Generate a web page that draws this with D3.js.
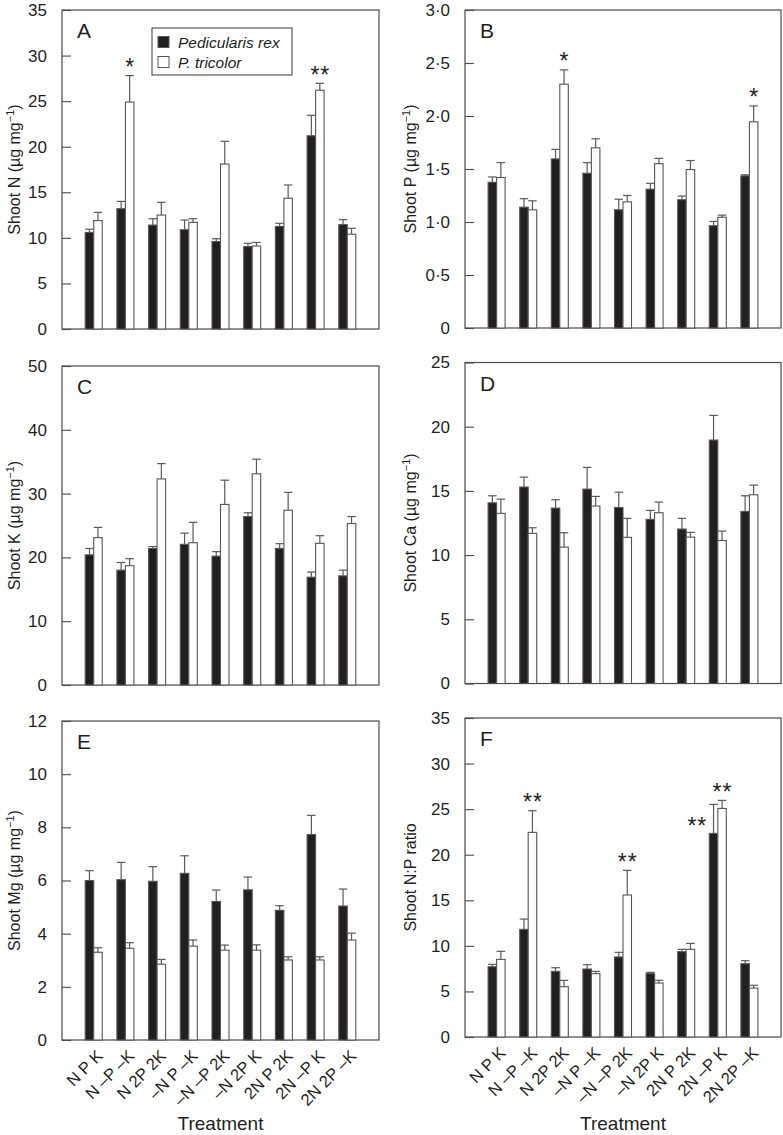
<!DOCTYPE html>
<html><head><meta charset="utf-8">
<script src="https://cdn.jsdelivr.net/npm/d3@7"></script>
<style>
html,body{margin:0;padding:0;background:#fff;}
svg{display:block;font-family:"Liberation Sans",Arial,Helvetica,sans-serif;}
</style></head>
<body><svg id="chart" width="783" height="1135"></svg>
<script>
// ---- data ----
const treatments = ["N P K","N \u2013P \u2013K","N 2P 2K","\u2013N P \u2013K","\u2013N \u2013P 2K","\u2013N 2P K","2N P 2K","2N \u2013P K","2N 2P \u2013K"];
const seriesNames = ["Pedicularis rex","P. tricolor"];

const nRex   = [10.6, 13.2, 11.4, 10.9, 9.6, 9.05, 11.25, 21.2, 11.45];
const nRexSE = [0.35, 0.8, 0.7, 1.05, 0.3, 0.35, 0.35, 2.25, 0.55];
const nTri   = [11.9, 24.9, 12.5, 11.7, 18.1, 9.1, 14.35, 26.2, 10.4];
const nTriSE = [0.9, 2.9, 1.4, 0.4, 2.5, 0.4, 1.45, 0.75, 0.65];

const pRex   = [1.375, 1.14, 1.595, 1.46, 1.115, 1.31, 1.21, 0.965, 1.435];
const pRexSE = [0.05, 0.08, 0.09, 0.1, 0.1, 0.055, 0.035, 0.04, 0.01];
const pTri   = [1.42, 1.115, 2.30, 1.70, 1.19, 1.55, 1.495, 1.045, 1.945];
const pTriSE = [0.14, 0.085, 0.135, 0.085, 0.06, 0.05, 0.085, 0.02, 0.15];

const kRex   = [20.4, 18.0, 21.4, 22.05, 20.2, 26.4, 21.4, 16.9, 17.1];
const kRexSE = [1.0, 1.2, 0.3, 1.75, 0.7, 0.6, 0.75, 0.8, 0.9];
const kTri   = [23.1, 18.7, 32.3, 22.3, 28.3, 33.1, 27.4, 22.2, 25.3];
const kTriSE = [1.6, 1.1, 2.4, 3.2, 3.8, 2.3, 2.8, 1.2, 1.1];

const caRex   = [14.07, 15.3, 13.66, 15.14, 13.71, 12.78, 12.03, 18.96, 13.4];
const caRexSE = [0.55, 0.77, 0.65, 1.69, 1.19, 0.7, 0.83, 1.92, 1.22];
const caTri   = [13.25, 11.69, 10.62, 13.82, 11.38, 13.3, 11.4, 11.14, 14.7];
const caTriSE = [1.11, 0.44, 1.12, 0.75, 1.48, 0.83, 0.37, 0.73, 0.75];

const mgRex   = [6.0, 6.03, 5.97, 6.27, 5.21, 5.65, 4.88, 7.73, 5.04];
const mgRexSE = [0.37, 0.65, 0.55, 0.66, 0.43, 0.48, 0.17, 0.72, 0.64];
const mgTri   = [3.30, 3.45, 2.85, 3.53, 3.38, 3.38, 3.01, 3.01, 3.76];
const mgTriSE = [0.17, 0.21, 0.18, 0.23, 0.19, 0.2, 0.12, 0.12, 0.26];

const npRex   = [7.71, 11.81, 7.2, 7.46, 8.78, 6.95, 9.36, 22.34, 8.04];
const npRexSE = [0.26, 1.13, 0.4, 0.47, 0.51, 0.14, 0.26, 3.18, 0.33];
const npTri   = [8.52, 22.45, 5.52, 6.95, 15.58, 5.92, 9.62, 25.08, 5.37];
const npTriSE = [0.88, 2.38, 0.7, 0.25, 2.7, 0.3, 0.65, 0.88, 0.3];

const ticksA = [0,5,10,15,20,25,30,35];
const ticksB = [0,0.5,1.0,1.5,2.0,2.5,3.0];
const ticksC = [0,10,20,30,40,50];
const ticksD = [0,5,10,15,20,25];
const ticksE = [0,2,4,6,8,10,12];
const ticksF = [0,5,10,15,20,25,30,35];

const starsA = [{g:1,s:1,label:"*"},{g:7,s:1,label:"**"}];
const starsB = [{g:2,s:1,label:"*"},{g:8,s:1,label:"*"}];
const starsF = [{g:1,s:1,label:"**"},{g:4,s:1,label:"**"},{g:7,s:0,label:"**",side:"left"},{g:7,s:1,label:"**"}];

// ---- layout ----
const svg = d3.select("#chart");
const TXT = "#231f20", AX = "#4a4a4a", ERR = "#5a5a5a";
const dotFmt = d => d === 0 ? "0" : d.toFixed(1).replace(".", "\u00b7");

const panels = [
  {id:"A", x0:62,  x1:379, y0:10,    y1:329,  max:35, ticks:ticksA, fmt:d=>d, lab:["Shoot N (\u00b5g mg","\u22121",")"], rex:nRex, rexSE:nRexSE, tri:nTri, triSE:nTriSE, stars:starsA, legend:true},
  {id:"B", x0:465, x1:781, y0:10,    y1:328,  max:3,  ticks:ticksB, fmt:dotFmt, lab:["Shoot P (\u00b5g mg","\u22121",")"], rex:pRex, rexSE:pRexSE, tri:pTri, triSE:pTriSE, stars:starsB},
  {id:"C", x0:62,  x1:379, y0:366,   y1:685,  max:50, ticks:ticksC, fmt:d=>d, lab:["Shoot K (\u00b5g mg","\u22121",")"], rex:kRex, rexSE:kRexSE, tri:kTri, triSE:kTriSE, stars:[]},
  {id:"D", x0:465, x1:781, y0:362.5, y1:683.5,max:25, ticks:ticksD, fmt:d=>d, lab:["Shoot Ca (\u00b5g mg","\u22121",")"], rex:caRex, rexSE:caRexSE, tri:caTri, triSE:caTriSE, stars:[]},
  {id:"E", x0:62,  x1:379, y0:721,   y1:1040, max:12, ticks:ticksE, fmt:d=>d, lab:["Shoot Mg (\u00b5g mg","\u22121",")"], rex:mgRex, rexSE:mgRexSE, tri:mgTri, triSE:mgTriSE, stars:[], xlabels:true},
  {id:"F", x0:465, x1:781, y0:718,   y1:1037, max:35, ticks:ticksF, fmt:d=>d, lab:["Shoot N:P ratio"], rex:npRex, rexSE:npRexSE, tri:npTri, triSE:npTriSE, stars:starsF, xlabels:true}
];

const BW = 8.5;

panels.forEach(p => {
  const g = svg.append("g");
  const x = d3.scalePoint().domain(treatments).range([p.x0, p.x1]).padding(1);
  const y = d3.scaleLinear().domain([0, p.max]).range([p.y1, p.y0]);

  // y axis (inward ticks)
  const yAxis = d3.axisLeft(y).tickValues(p.ticks).tickFormat(p.fmt).tickSize(-9).tickPadding(15);
  const ya = g.append("g").attr("transform", `translate(${p.x0},0)`).call(yAxis);
  ya.select(".domain").remove();
  ya.selectAll("line").attr("stroke", AX).attr("stroke-width", 1.1);
  ya.selectAll("text").attr("font-size", 17).attr("fill", TXT);

  // box
  g.append("rect").attr("x", p.x0).attr("y", p.y0).attr("width", p.x1 - p.x0).attr("height", p.y1 - p.y0)
    .attr("fill", "none").attr("stroke", AX).attr("stroke-width", 1.2);

  // bars
  const series = [
    {vals:p.rex, se:p.rexSE, fill:"#231f20", off:-BW},
    {vals:p.tri, se:p.triSE, fill:"#ffffff", off:0}
  ];
  series.forEach((s, si) => {
    const bg = g.append("g");
    bg.selectAll("rect").data(treatments).join("rect")
      .attr("x", (d) => x(d) + s.off)
      .attr("y", (d, i) => y(s.vals[i]))
      .attr("width", BW)
      .attr("height", (d, i) => y(0) - y(s.vals[i]))
      .attr("fill", s.fill).attr("stroke", "#555").attr("stroke-width", 1.1);
    // error bars (upper only)
    bg.selectAll("line.v").data(treatments).join("line").attr("class","v")
      .attr("x1", d => x(d) + s.off + BW/2).attr("x2", d => x(d) + s.off + BW/2)
      .attr("y1", (d, i) => y(s.vals[i])).attr("y2", (d, i) => y(s.vals[i] + s.se[i]))
      .attr("stroke", ERR).attr("stroke-width", 1.2);
    bg.selectAll("line.c").data(treatments).join("line").attr("class","c")
      .attr("x1", d => x(d) + s.off).attr("x2", d => x(d) + s.off + BW)
      .attr("y1", (d, i) => y(s.vals[i] + s.se[i])).attr("y2", (d, i) => y(s.vals[i] + s.se[i]))
      .attr("stroke", ERR).attr("stroke-width", 1.2);
  });

  // stars
  p.stars.forEach(st => {
    const s = series[st.s];
    const top = y(s.vals[st.g] + s.se[st.g]);
    const bx = x(treatments[st.g]) + s.off;
    const t = g.append("text").text(st.label).attr("font-size", 23).attr("fill", TXT)
      .attr("letter-spacing", st.label.length > 1 ? 1 : 0);
    if (st.side === "left") {
      t.attr("x", bx - 2).attr("y", top + 30).attr("text-anchor", "end");
    } else {
      t.attr("x", bx + BW/2 + (st.label.length > 1 ? 0.5 : 0)).attr("y", top - 0.5).attr("text-anchor", "middle");
    }
  });

  // panel letter
  g.append("text").attr("x", p.x0 + 15).attr("y", p.y0 + 28).text(p.id)
    .attr("font-size", 21).attr("fill", TXT);

  // y label
  const lx = p.x0 < 200 ? 19.5 : 416;
  const lt = g.append("text").attr("transform", `translate(${lx},${(p.y0 + p.y1)/2}) rotate(-90)`)
    .attr("text-anchor", "middle").attr("font-size", 16).attr("fill", TXT);
  lt.append("tspan").text(p.lab[0]);
  if (p.lab.length > 1) {
    lt.append("tspan").text(p.lab[1]).attr("font-size", 11).attr("dy", -6);
    lt.append("tspan").text(p.lab[2]).attr("dy", 6);
  }

  // x labels
  if (p.xlabels) {
    g.selectAll("text.xl").data(treatments).join("text").attr("class","xl")
      .attr("transform", d => `translate(${x(d) + 10},${p.y1 + 17}) rotate(-45)`)
      .attr("text-anchor", "end").attr("font-size", 16.5).attr("fill", TXT).text(d => d);
    g.append("text").attr("x", (p.x0 + p.x1)/2).attr("y", 1130).attr("text-anchor", "middle")
      .attr("font-size", 19).attr("fill", TXT).text("Treatment");
  }

  // legend
  if (p.legend) {
    const lg = g.append("g");
    lg.append("rect").attr("x", 152).attr("y", 28).attr("width", 140).attr("height", 47)
      .attr("fill", "#fff").attr("stroke", AX).attr("stroke-width", 1.1);
    seriesNames.forEach((nm, i) => {
      lg.append("rect").attr("x", 158).attr("y", 36.5 + i * 20).attr("width", 11).attr("height", 11)
        .attr("fill", i === 0 ? "#231f20" : "#fff").attr("stroke", "#555").attr("stroke-width", 1);
      lg.append("text").attr("x", 178).attr("y", 47.7 + i * 20).text(nm)
        .attr("font-size", 15.5).attr("font-style", "italic").attr("fill", TXT);
    });
  }
});
</script></body></html>
